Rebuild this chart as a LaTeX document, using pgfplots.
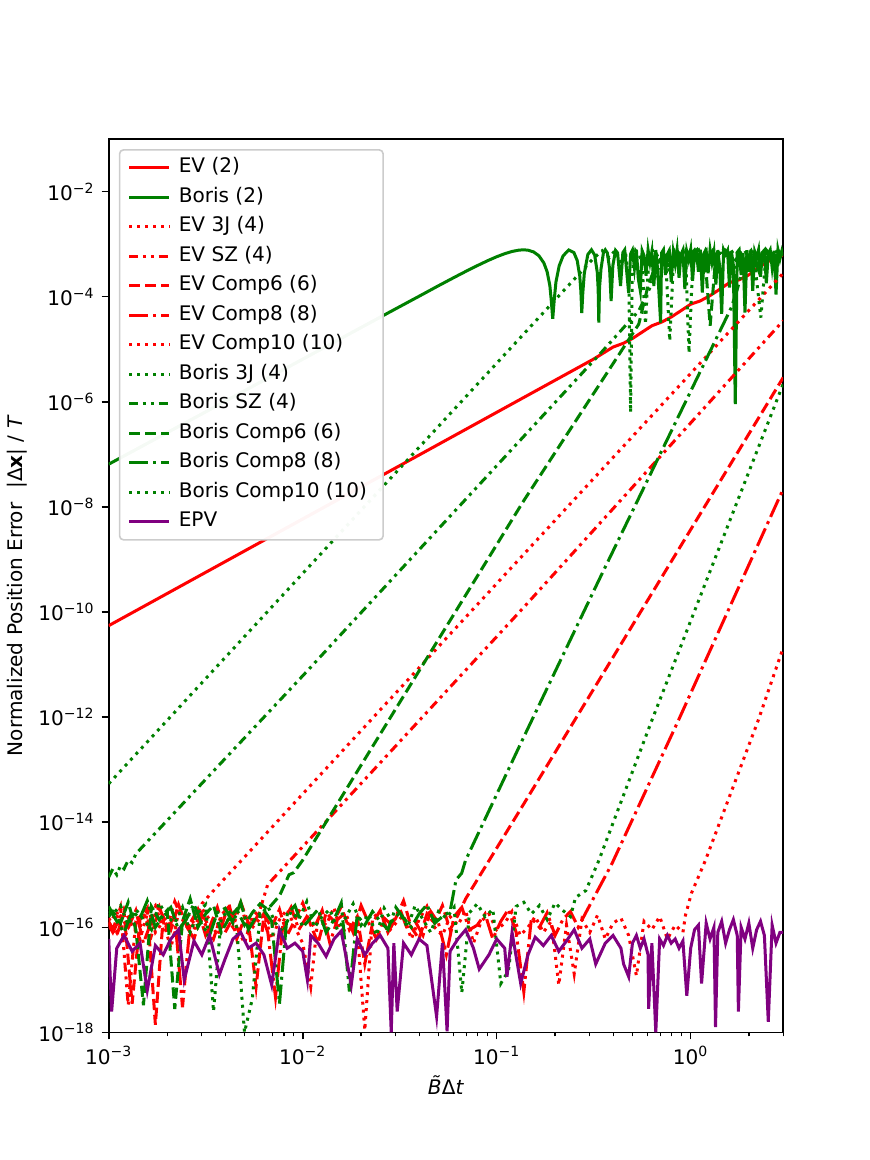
\documentclass[border=0pt]{standalone}
\usepackage{fontspec}
\setmainfont{DejaVu Sans}
\usepackage{pgfplots}
\pgfplotsset{compat=1.18}
\definecolor{mplred}{HTML}{FF0000}
\definecolor{mplgreen}{HTML}{008000}
\definecolor{mplpurple}{HTML}{800080}
\tikzset{
 mpldot/.style={dash pattern=on 1.5pt off 2.475pt},
 mpldash/.style={dash pattern=on 5.55pt off 2.4pt},
 mpldashdot/.style={dash pattern=on 9.6pt off 2.4pt on 1.5pt off 2.4pt},
 mpldashdotdot/.style={dash pattern=on 4.5pt off 2.4pt on 1.5pt off 2.4pt on 1.5pt off 2.4pt},
}
\begin{document}
\begin{tikzpicture}
\useasboundingbox (-54.2pt,-63.6pt) rectangle (379.4pt,514.6pt);
\begin{axis}[
 scale only axis, width=336.2pt, height=445.3pt,
 xmode=log, ymode=log,
 xmin=1e-3, xmax=3, ymin=1e-18, ymax=1e-1,
 xtick={1e-3,1e-2,1e-1,1},
 xticklabels={10\textsuperscript{−3},10\textsuperscript{−2},10\textsuperscript{−1},10\textsuperscript{0}},
 minor xtick={2e-3,3e-3,4e-3,5e-3,6e-3,7e-3,8e-3,9e-3,2e-2,3e-2,4e-2,5e-2,6e-2,7e-2,8e-2,9e-2,0.2,0.3,0.4,0.5,0.6,0.7,0.8,0.9,2,3},
 ytick={1e-18,1e-16,1e-14,1e-12,1e-10,1e-8,1e-6,1e-4,1e-2},
 yticklabels={10\textsuperscript{−18},10\textsuperscript{−16},10\textsuperscript{−14},10\textsuperscript{−12},10\textsuperscript{−10},10\textsuperscript{−8},10\textsuperscript{−6},10\textsuperscript{−4},10\textsuperscript{−2}},
 yminorticks=false,
 tick align=outside, tick pos=left,
 major tick length=3.5pt, minor tick length=2pt,
 tick style={black, line width=0.8pt},
 minor tick style={line width=0.6pt},
 axis line style={line width=0.8pt},
 ticklabel style={font=\fontsize{10}{12}\selectfont},
 label style={font=\fontsize{10}{12}\selectfont},
 xlabel={\textit{B̃}Δ\textit{t}},
 ylabel={Normalized Position Error\hspace{0.7em}|Δ\textbf{x}| / \textit{T}},
 xlabel style={at={(axis description cs:0.5,-0.0593)}, anchor=center},
 ylabel style={at={(axis description cs:-0.1362,0.5)}, anchor=center},
 legend cell align=left,
 legend image code/.code={\draw[#1] (0pt,0pt) -- (20pt,0pt);},
 legend style={
   at={(0.0149,0.9888)}, anchor=north west,
   draw=white!80!black, line width=0.8pt, rounded corners=2pt,
   fill=white, fill opacity=0.96, text opacity=1,
   inner xsep=4pt, inner ysep=4pt,
   row sep=4.7pt,
   font=\fontsize{10}{12}\selectfont,
   nodes={inner xsep=4pt, inner ysep=0pt, text height=7.5pt, text depth=2.5pt},
 },
]
% EV (2)
\addplot[mplred, line width=1.5pt] coordinates {
(1e-3,5.5e-11) (0.1,6.3e-7) (0.316,6.5e-6) (0.398,1.1e-5) (0.45,1.3e-5) (0.501,1.6e-5) (0.56,2.1e-5) (0.631,2.8e-5) (0.71,3.3e-5) (0.794,4.1e-5) (0.89,5.4e-5) (1.0,7.2e-5) (1.12,8.3e-5) (1.259,1.05e-4) (1.41,1.38e-4) (1.585,1.85e-4) (1.78,2.1e-4) (1.995,2.6e-4) (2.24,3.6e-4) (2.512,4.7e-4) (2.75,5.1e-4) (3,6.3e-4)
};
\addlegendentry{EV (2)}
% Boris (2)
\addplot[mplgreen, line width=1.5pt] coordinates {
(1e-3,6.5e-8) (3e-3,5.8e-7) (0.01,6.47e-6) (0.02,2.59e-5) (0.03,5.82e-5) (0.04,1.03e-4) (0.05,1.61e-4) (0.06,2.30e-4) (0.07,3.09e-4) (0.08,3.95e-4) (0.09,4.86e-4) (0.10,5.76e-4) (0.11,6.58e-4) (0.12,7.26e-4) (0.13,7.69e-4) (0.1376,7.8e-4) (0.145,7.68e-4) (0.155,7.11e-4) (0.165,6.02e-4) (0.175,4.40e-4) (0.182,2.98e-4) (0.188,1.62e-4) (0.191,8.8e-5) (0.1945,3.8e-5) (0.198,8.7e-5) (0.202,1.89e-4)
(0.21,3.88e-4) (0.22,5.99e-4) (0.235,7.74e-4) (0.25,6.92e-4) (0.26,4.89e-4) (0.268,2.47e-4) (0.2715,1.3e-4) (0.2745,4.9e-5) (0.278,1.2e-4) (0.283,2.79e-4) (0.295,6.35e-4) (0.308,7.8e-4) (0.32,6.2e-4) (0.33,2.9e-4) (0.3335,1.4e-4) (0.336,3.2e-5) (0.339,1.5e-4) (0.345,3.4e-4) (0.355,6.8e-4) (0.363,7.8e-4) (0.372,6.8e-4) (0.382,3.4e-4) (0.389,8.3e-5) (0.397,3.9e-4) (0.41,7.6e-4) (0.42,6.8e-4) (0.435,1.6e-4) (0.447,6.9e-4)
(0.457,7.8e-4) (0.468,3.0e-4) (0.479,1.17e-4) (0.490,6.5e-4) (0.501,7.7e-4) (0.513,3.5e-4) (0.525,7.8e-4) (0.537,2.2e-4) (0.550,1.3e-4) (0.562,7.5e-4) (0.575,6.0e-4) (0.589,2.5e-4) (0.603,7.8e-4) (0.617,4.5e-4) (0.631,7.2e-4) (0.646,1.6e-4) (0.661,7.7e-4) (0.676,3.2e-4) (0.70,3.2e-5) (0.708,6.8e-4) (0.724,7.8e-4) (0.741,2.6e-4) (0.759,6.5e-4) (0.776,7.6e-4) (0.794,1.9e-4) (0.813,7.0e-4) (0.832,4.2e-4) (0.851,7.8e-4) (0.871,2.3e-4) (0.891,6.3e-4) (0.912,7.7e-4) (0.933,1.4e-4) (0.955,7.2e-4) (0.977,5.0e-4) (1.000,7.8e-4) (1.023,2.0e-4) (1.047,6.9e-4) (1.072,7.6e-4) (1.096,3.0e-4) (1.122,7.8e-4) (1.148,1.2e-4) (1.175,6.7e-4) (1.202,7.5e-4) (1.230,2.8e-4) (1.259,7.8e-4) (1.288,4.5e-4) (1.318,7.1e-4) (1.349,1.7e-4) (1.380,7.7e-4) (1.413,3.5e-4) (1.445,4.7e-5) (1.479,7.8e-4) (1.514,6.4e-4) (1.549,7.6e-4) (1.585,1.5e-4) (1.622,7.3e-4) (1.660,4.0e-4) (1.698,9e-7) (1.738,7.0e-4) (1.778,7.8e-4) (1.820,2.6e-4) (1.862,6.8e-4) (1.905,5e-5) (1.950,7.7e-4) (1.995,3.0e-4) (2.042,7.8e-4) (2.089,1.3e-4) (2.138,7.2e-4) (2.188,5.5e-4) (2.239,7.8e-4) (2.291,2.4e-4) (2.344,7.0e-4) (2.399,7.7e-4) (2.455,1.8e-4) (2.512,6.6e-4) (2.570,7.8e-4) (2.630,3.6e-4) (2.692,7.5e-4) (2.754,1.1e-4) (2.818,7.8e-4) (2.884,5.2e-4) (2.951,7.4e-4) (3.0,6.0e-4)
};
\addlegendentry{Boris (2)}
% EV 3J (4)
\addplot[mplred, line width=1.5pt, mpldot] coordinates {
(1.00e-3,1.5e-16) (1.10e-3,8e-17) (1.20e-3,2.2e-16) (1.32e-3,1.1e-16) (1.45e-3,6e-17) (1.58e-3,1.8e-16) (1.74e-3,2.6e-16) (1.91e-3,9e-17) (2.09e-3,1.3e-16) (2.29e-3,5e-17) (2.51e-3,2.0e-16) (2.75e-3,1.2e-16) (3.02e-3,2.8e-16) (3.4e-3,4.6e-16) (0.138,1.26e-9) (3,2.8e-4)
};
\addlegendentry{EV 3J (4)}
% EV SZ (4)
\addplot[mplred, line width=1.5pt, mpldashdotdot] coordinates {
(1.00e-3,1.3e-16) (1.05e-3,9e-17) (1.15e-3,2.4e-16) (1.26e-3,3.3e-18) (1.38e-3,1.3e-16) (1.51e-3,1.9e-16) (1.66e-3,7e-17) (1.82e-3,2.3e-16) (2.00e-3,1.0e-16) (2.19e-3,3.1e-16) (2.40e-3,1.4e-16) (2.63e-3,8e-17) (2.88e-3,2.0e-16) (3.16e-3,1.1e-16) (3.47e-3,6e-17) (3.80e-3,1.7e-16) (4.17e-3,2.5e-16) (4.57e-3,1.0e-16) (5.01e-3,5e-17) (5.50e-3,1.6e-16) (6.03e-3,2.2e-16) (6.6e-3,6.5e-16) (0.138,1.23e-10) (3,3.5e-5)
};
\addlegendentry{EV SZ (4)}
% EV Comp6 (6)
\addplot[mplred, line width=1.5pt, mpldash] coordinates {
(1.00e-3,1.2e-16) (1.10e-3,7e-17) (1.20e-3,1.9e-16) (1.32e-3,3.5e-18) (1.45e-3,1.4e-16) (1.58e-3,2.3e-16) (1.74e-3,1.4e-18) (1.91e-3,1.6e-16) (2.09e-3,9e-17) (2.29e-3,2.7e-16) (2.51e-3,1.1e-16) (2.75e-3,6e-17) (3.02e-3,1.8e-16) (3.31e-3,1.0e-16) (3.63e-3,2.4e-16) (3.98e-3,8e-17) (4.37e-3,1.5e-16) (4.79e-3,3.0e-16) (5.25e-3,1.2e-16) (5.75e-3,7.4e-18) (6.31e-3,1.7e-16) (6.92e-3,1.0e-16) (7.59e-3,2.2e-16) (8.32e-3,7e-17) (9.12e-3,1.4e-16) (1.00e-2,2.9e-16) (1.10e-2,1.1e-16) (1.20e-2,5e-17) (1.32e-2,1.9e-16) (1.45e-2,1.3e-16) (1.58e-2,2.5e-16) (1.74e-2,9e-17) (1.91e-2,1.6e-16) (2.09e-2,2e-17) (2.29e-2,1.2e-16) (2.51e-2,2.1e-16) (2.75e-2,8e-17) (3.02e-2,1.5e-16) (3.31e-2,3.2e-16) (3.63e-2,1.0e-16) (3.98e-2,6e-17) (4.37e-2,1.8e-16) (4.79e-2,1.2e-16) (5.25e-2,2.6e-16) (5.75e-2,9e-17) (6.31e-2,1.7e-16) (6.92e-2,3.5e-16) (0.138,2.24e-14) (3,2.9e-6)
};
\addlegendentry{EV Comp6 (6)}
% EV Comp8 (8)
\addplot[mplred, line width=1.5pt, mpldashdot] coordinates {
(1.00e-3,1.1e-16) (1.05e-3,8e-17) (1.15e-3,1.6e-16) (1.26e-3,1.0e-16) (1.38e-3,2.1e-16) (1.51e-3,5e-17) (1.66e-3,1.3e-16) (1.82e-3,2.5e-16) (2.00e-3,9e-17) (2.19e-3,1.7e-16) (2.40e-3,3e-18) (2.63e-3,1.2e-16) (2.88e-3,2.2e-16) (3.16e-3,7e-17) (3.47e-3,1.4e-16) (3.80e-3,1.0e-16) (4.17e-3,2.8e-16) (4.57e-3,6e-17) (5.01e-3,1.5e-16) (5.50e-3,1.1e-16) (6.03e-3,2.0e-16) (6.61e-3,8e-17) (7.24e-3,4.7e-18) (7.94e-3,1.3e-16) (8.71e-3,2.4e-16) (9.55e-3,9e-17) (1.05e-2,1.6e-16) (1.15e-2,1.0e-16) (1.26e-2,2.1e-16) (1.38e-2,5e-17) (1.51e-2,1.4e-16) (1.66e-2,1.9e-16) (1.82e-2,8e-17) (2.00e-2,2.6e-16) (2.19e-2,1.2e-16) (2.40e-2,6e-17) (2.63e-2,1.5e-16) (2.88e-2,1.1e-16) (3.16e-2,2.3e-16) (3.47e-2,9e-17) (3.80e-2,1.3e-16) (4.17e-2,7e-17) (4.57e-2,2.0e-16) (5.01e-2,1.2e-16) (5.50e-2,3e-17) (6.03e-2,1.6e-16) (6.61e-2,2.4e-16) (7.24e-2,9e-17) (7.94e-2,1.1e-16) (8.71e-2,1.8e-16) (9.55e-2,6e-17) (0.105,1.3e-16) (0.115,2.2e-16) (0.126,8e-17) (0.138,5.9e-18) (0.151,1.5e-16) (0.166,1.0e-16) (0.182,1.9e-16) (0.200,7e-17) (0.219,1.4e-16) (0.240,2.0e-16) (0.263,1.0e-16) (0.288,1.9e-16) (0.392,1.6e-15) (0.865,8.7e-13) (3,2.2e-8)
};
\addlegendentry{EV Comp8 (8)}
% EV Comp10 (10)
\addplot[mplred, line width=1.5pt, mpldot] coordinates {
(1.00e-3,1.1e-16) (1.10e-3,2.0e-16) (1.20e-3,6e-17) (1.32e-3,1.5e-16) (1.45e-3,1.0e-16) (1.58e-3,2.6e-16) (1.74e-3,8e-17) (1.91e-3,1.3e-16) (2.09e-3,4e-17) (2.29e-3,1.9e-16) (2.51e-3,1.2e-16) (2.75e-3,9e-17) (3.02e-3,2.3e-16) (3.31e-3,1.4e-16) (3.63e-3,7e-17) (3.98e-3,1.7e-16) (4.37e-3,1.0e-16) (4.79e-3,2.9e-16) (5.25e-3,8e-17) (5.75e-3,1.2e-16) (6.31e-3,1.8e-16) (6.92e-3,6e-17) (7.59e-3,1.4e-16) (8.32e-3,2.2e-16) (9.12e-3,1.0e-16) (1.00e-2,5e-17) (1.10e-2,7.4e-18) (1.20e-2,1.6e-16) (1.32e-2,1.1e-16) (1.45e-2,2.4e-16) (1.58e-2,7e-17) (1.74e-2,1.3e-16) (1.91e-2,9e-17) (2.09e-2,1.1e-18) (2.29e-2,1.5e-16) (2.51e-2,2.0e-16) (2.75e-2,8e-17) (3.02e-2,1.2e-16) (3.31e-2,1.7e-16) (3.63e-2,6e-17) (3.98e-2,1.4e-16) (4.37e-2,2.5e-16) (4.79e-2,1.0e-16) (5.25e-2,7e-17) (5.75e-2,1.6e-16) (6.31e-2,1.1e-16) (6.92e-2,2.1e-16) (7.59e-2,5e-17) (8.32e-2,1.3e-16) (9.12e-2,1.8e-16) (0.100,9e-17) (0.110,1.2e-16) (0.120,2.0e-16) (0.132,7e-17) (0.145,1.0e-16) (0.158,1.6e-16) (0.174,8e-17) (0.191,1.3e-16) (0.209,8e-18) (0.229,1.1e-16) (0.251,1.3e-17) (0.275,1.4e-16) (0.302,8e-17) (0.331,1.7e-16) (0.363,6e-17) (0.398,1.2e-16) (0.437,1.5e-16) (0.479,7e-17) (0.525,1.2e-17) (0.575,1.3e-16) (0.631,9e-17) (0.692,1.6e-16) (0.759,6e-17) (0.832,1.1e-16) (0.912,8e-17) (0.94,1.7e-16) (1.01,4.5e-16) (1.19,1.86e-15) (2.23,8.7e-13) (3,2.1e-11)
};
\addlegendentry{EV Comp10 (10)}
% Boris 3J (4)
\addplot[mplgreen, line width=1.5pt, mpldot] coordinates {
(1e-3,5.4e-14) (0.316,5.4e-4) (0.35,7.5e-4) (0.38,5.5e-4) (0.41,7.8e-4) (0.44,4e-4) (0.46,7.6e-4) (0.48,2e-4) (0.49,6.3e-7) (0.50,3e-4) (0.52,7.5e-4) (0.56,5e-4) (0.585,3e-5) (0.61,7e-4) (0.65,7.8e-4) (0.70,4.5e-4) (0.74,7.2e-4) (0.78,1.45e-5) (0.82,7.7e-4) (0.88,5e-4) (0.94,7.5e-4) (0.98,8.5e-6) (1.03,6.5e-4) (1.1,7.8e-4) (1.2,4e-4) (1.3,7.5e-4) (1.4,5.5e-4) (1.5,7.8e-4) (1.65,3e-4) (1.8,7e-4) (1.95,5.5e-4) (2.1,7.8e-4) (2.3,4e-5) (2.45,7e-4) (2.6,4.5e-4) (2.8,7.8e-4) (3,6.5e-4)
};
\addlegendentry{Boris 3J (4)}
% Boris SZ (4)
\addplot[mplgreen, line width=1.5pt, mpldashdotdot] coordinates {
(1.0e-3,9e-16) (1.05e-3,1.3e-15) (1.1e-3,1.0e-15) (1.15e-3,1.5e-15) (1.2e-3,1.3e-15) (1.26e-3,1.9e-15) (1.32e-3,1.7e-15) (1.38e-3,2.5e-15) (0.0102,6.6e-12) (0.35,9.1e-6) (0.54,5.4e-5) (0.6,1.2e-4) (0.66,2.5e-4) (0.72,6e-4) (0.78,3e-4) (0.85,7.5e-4) (0.95,5e-4) (1.05,7.8e-4) (1.2,3.5e-4) (1.35,7.4e-4) (1.5,6e-4) (1.7,7.8e-4) (1.9,4e-4) (2.2,7.2e-4) (2.5,5.5e-4) (2.8,7.8e-4) (3,6.2e-4)
};
\addlegendentry{Boris SZ (4)}
% Boris Comp6 (6)
\addplot[mplgreen, line width=1.5pt, mpldash] coordinates {
(1.00e-3,1.6e-16) (1.05e-3,2.0e-16) (1.15e-3,1.2e-16) (1.26e-3,3.0e-16) (1.38e-3,9e-17) (1.51e-3,3.3e-18) (1.66e-3,2.5e-16) (1.82e-3,1.4e-16) (2.00e-3,2.1e-16) (2.19e-3,2.8e-18) (2.40e-3,1.3e-16) (2.63e-3,3.5e-16) (2.88e-3,1.0e-16) (3.16e-3,1.8e-16) (3.47e-3,2.6e-16) (3.80e-3,8e-17) (4.17e-3,1.5e-16) (4.57e-3,2.2e-16) (5.01e-3,1.1e-16) (5.50e-3,1.9e-16) (6.03e-3,2.8e-16) (6.6e-3,2.2e-16) (7.6e-3,4.0e-16) (8.5e-3,1.0e-15) (9.0e-3,1.1e-15) (1.0e-2,1.9e-15) (0.138,1.32e-8) (0.54,3e-5) (0.6,1.5e-4) (0.66,4e-4) (0.72,6e-4) (0.78,3.5e-4) (0.85,7.5e-4) (0.93,5e-4) (1.0,7.8e-4) (1.1,4e-4) (1.18,7e-4) (1.26,2.8e-5) (1.35,6.5e-4) (1.5,7.8e-4) (1.7,5e-4) (1.9,7.7e-4) (2.1,3.5e-4) (2.4,7e-4) (2.7,5.5e-4) (3,7.2e-4)
};
\addlegendentry{Boris Comp6 (6)}
% Boris Comp8 (8)
\addplot[mplgreen, line width=1.5pt, mpldashdot] coordinates {
(1.00e-3,2.5e-16) (1.10e-3,1.3e-16) (1.20e-3,8e-17) (1.32e-3,2.0e-16) (1.45e-3,1.5e-16) (1.58e-3,3.2e-16) (1.74e-3,1.0e-16) (1.91e-3,1.7e-16) (2.09e-3,2.4e-16) (2.29e-3,9e-17) (2.51e-3,1.4e-16) (2.75e-3,2.8e-16) (3.02e-3,1.1e-16) (3.31e-3,7e-17) (3.63e-3,1.9e-16) (3.98e-3,2.3e-16) (4.37e-3,1.2e-16) (4.79e-3,3.0e-16) (5.25e-3,9e-17) (5.75e-3,1.6e-16) (6.31e-3,2.1e-16) (6.92e-3,1.3e-16) (7.59e-3,3.5e-18) (8.32e-3,1.8e-16) (9.12e-3,2.6e-16) (1.00e-2,1.0e-16) (1.10e-2,1.5e-16) (1.20e-2,2.2e-16) (1.32e-2,8e-17) (1.45e-2,1.4e-16) (1.58e-2,2.9e-16) (1.74e-2,6e-18) (1.91e-2,1.7e-16) (2.09e-2,1.1e-16) (2.29e-2,2.0e-16) (2.51e-2,1.3e-16) (2.75e-2,9e-17) (3.02e-2,2.4e-16) (3.31e-2,1.5e-16) (3.63e-2,1.0e-16) (3.98e-2,1.8e-16) (4.37e-2,2.7e-16) (4.79e-2,1.2e-16) (5.25e-2,1.6e-16) (5.75e-2,2e-16) (6.17e-2,8e-16) (6.6e-2,1.07e-15) (6.9e-2,1.86e-15) (0.138,4.2e-13) (0.336,4e-10) (1.62,6.2e-5) (1.75,1.5e-4) (1.9,5e-4) (2.05,7.5e-4) (2.25,3e-4) (2.45,7.8e-4) (2.7,5e-4) (2.9,7.5e-4) (3,6e-4)
};
\addlegendentry{Boris Comp8 (8)}
% Boris Comp10 (10)
\addplot[mplgreen, line width=1.5pt, mpldot] coordinates {
(1.00e-3,2.0e-16) (1.05e-3,1.8e-16) (1.15e-3,2.6e-16) (1.26e-3,1.1e-16) (1.38e-3,2.2e-16) (1.51e-3,1.4e-16) (1.66e-3,9e-17) (1.82e-3,2.9e-16) (2.00e-3,1.6e-16) (2.19e-3,1.2e-16) (2.40e-3,2.4e-16) (2.63e-3,8e-17) (2.88e-3,1.9e-16) (3.16e-3,2.7e-16) (3.47e-3,2.5e-18) (3.80e-3,1.5e-16) (4.17e-3,2.1e-16) (4.57e-3,1.0e-16) (5.01e-3,1.0e-18) (5.50e-3,4.4e-18) (6.03e-3,1.7e-16) (6.61e-3,2.5e-16) (7.24e-3,1.2e-16) (7.94e-3,8e-17) (8.71e-3,2.0e-16) (9.55e-3,1.4e-16) (1.05e-2,3.1e-16) (1.15e-2,1.0e-16) (1.26e-2,1.6e-16) (1.38e-2,2.2e-16) (1.51e-2,9e-17) (1.66e-2,1.5e-16) (1.82e-2,2.8e-16) (2.00e-2,1.1e-16) (2.19e-2,1.8e-16) (2.40e-2,7e-17) (2.63e-2,2.3e-16) (2.88e-2,1.3e-16) (3.16e-2,1.9e-16) (3.47e-2,1.0e-16) (3.80e-2,2.6e-16) (4.17e-2,1.4e-16) (4.57e-2,8e-17) (5.01e-2,2.0e-16) (5.50e-2,1.5e-16) (6.03e-2,2.4e-16) (6.61e-2,5.7e-18) (7.24e-2,1.9e-16) (7.94e-2,2.8e-16) (8.71e-2,1.6e-16) (9.55e-2,2.2e-16) (0.105,8.5e-18) (0.115,1.5e-17) (0.126,2.5e-16) (0.138,3.0e-16) (0.151,1.8e-16) (0.166,2.6e-16) (0.182,1.4e-16) (0.200,2.9e-16) (0.219,2.1e-16) (0.240,1.6e-16) (0.255,3.7e-16) (0.288,5e-16) (0.336,1.86e-15) (0.631,8.7e-13) (3,2.2e-6)
};
\addlegendentry{Boris Comp10 (10)}
% EPV
\addplot[mplpurple, line width=1.5pt] coordinates {
(1.00e-3,6e-17) (1.035e-3,2.5e-18) (1.10e-3,4e-17) (1.20e-3,7e-17) (1.32e-3,3.5e-17) (1.45e-3,5e-17) (1.58e-3,6.3e-18) (1.74e-3,4.5e-17) (1.91e-3,3e-17) (2.09e-3,6e-17) (2.29e-3,9e-17) (2.45e-3,1e-17) (2.75e-3,5.5e-17) (3.02e-3,3e-17) (3.31e-3,7e-17) (3.72e-3,1.26e-17) (3.98e-3,2.5e-17) (4.37e-3,6e-17) (4.79e-3,8e-17) (5.25e-3,4e-17) (5.75e-3,5e-17) (6.31e-3,3e-17) (6.92e-3,8e-18) (7.59e-3,9e-17) (8.32e-3,4e-17) (9.12e-3,5e-17) (1.00e-2,3.5e-17) (1.057e-2,1e-17) (1.10e-2,7e-17) (1.20e-2,5e-17) (1.32e-2,2.8e-17) (1.45e-2,6e-17) (1.58e-2,8.5e-17) (1.78e-2,8e-18) (1.91e-2,6e-17) (2.09e-2,3e-17) (2.29e-2,5e-17) (2.51e-2,7e-17) (2.75e-2,4e-17) (2.86e-2,1e-18) (2.95e-2,5e-17) (3.07e-2,2.5e-18) (3.31e-2,5e-17) (3.63e-2,3e-17) (3.98e-2,6e-17) (4.37e-2,4.5e-17) (4.9e-2,2e-18) (5.25e-2,5e-17) (5.55e-2,1.05e-18) (5.75e-2,3.5e-17) (6.31e-2,6e-17) (6.92e-2,9e-17) (7.59e-2,4e-17) (8.13e-2,1.6e-17) (9.12e-2,3e-17) (0.100,6e-17) (0.110,4e-17) (0.113,1.15e-17) (0.120,8e-17) (0.133,8.5e-18) (0.145,3e-17) (0.158,6.5e-17) (0.174,4.5e-17) (0.191,7e-17) (0.209,3.5e-17) (0.229,5.5e-17) (0.251,9e-17) (0.275,4e-17) (0.302,6e-17) (0.324,2e-17) (0.363,5e-17) (0.398,7e-17) (0.437,4e-17) (0.451,2e-17) (0.479,1.15e-17) (0.501,5e-17) (0.525,7e-17) (0.550,4e-17) (0.575,6e-17) (0.603,3e-17) (0.607,2.8e-18) (0.631,5e-17) (0.661,1e-18) (0.692,6e-17) (0.724,4.5e-17) (0.759,7e-17) (0.794,5e-17) (0.832,6e-17) (0.871,4e-17) (0.912,5.5e-17) (0.955,5e-18) (1.000,4e-17) (1.047,9e-17) (1.096,1.1e-16) (1.138,8.5e-18) (1.202,1.2e-16) (1.259,6e-17) (1.318,1e-16) (1.343,1.26e-18) (1.380,8e-17) (1.445,1.3e-16) (1.514,5e-17) (1.585,9e-17) (1.660,1.4e-16) (1.738,7e-17) (1.762,2.5e-18) (1.820,1e-16) (1.905,6e-17) (1.995,1.2e-16) (2.089,4e-17) (2.188,9e-17) (2.291,1.3e-16) (2.399,7e-17) (2.512,1.6e-18) (2.630,1.1e-16) (2.754,5e-17) (2.884,8e-17) (3.0,8e-17)
};
\addlegendentry{EPV}
\end{axis}
\end{tikzpicture}
\end{document}
